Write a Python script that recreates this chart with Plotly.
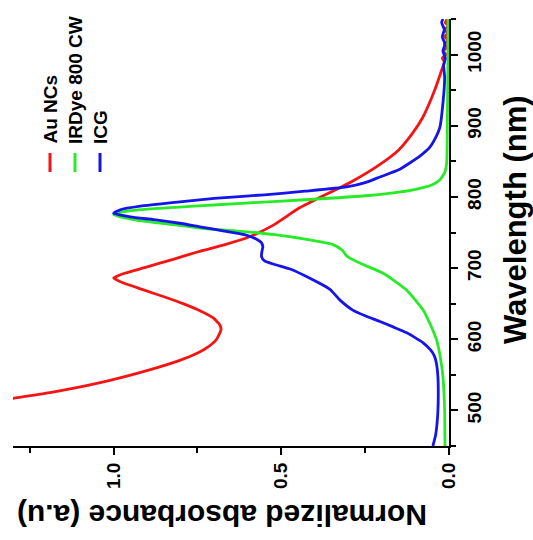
import plotly.graph_objects as go

# ---------------- data (wavelength in nm, normalized absorbance) ----------------
au_wl = [495, 505, 517, 525, 539, 557, 570, 581, 590, 600, 613, 620, 630, 639, 650, 660, 670, 679, 686,
         692, 701, 712, 723, 733, 744, 760, 784, 798, 821, 845, 866, 890, 912, 946, 978,
         990, 995, 1000, 1005, 1010, 1015, 1020, 1025, 1030, 1035, 1040, 1045, 1050]
au_abs = [1.56, 1.42, 1.30, 1.19, 1.04, 0.893, 0.805, 0.748, 0.716, 0.693, 0.680, 0.683, 0.703, 0.738, 0.793, 0.852, 0.915, 0.970, 1.0,
          0.972, 0.905, 0.825, 0.748, 0.668, 0.595, 0.525, 0.448, 0.39, 0.292, 0.208, 0.150, 0.108, 0.078, 0.046, 0.022,
          0.014, 0.02, 0.009, 0.017, 0.006, 0.014, 0.003, 0.012, 0.004, 0.013, 0.002, 0.011, 0.005]

ir_wl = [450, 500, 547, 575, 599, 620, 641, 669, 693, 707, 717, 725, 733, 740, 747, 752, 756, 761,
         766, 771, 775, 779, 783, 787, 791, 796, 802, 810, 817, 824, 835, 847, 900, 950, 1000, 1050]
ir_abs = [0.012, 0.013, 0.018, 0.026, 0.037, 0.055, 0.077, 0.126, 0.197, 0.266, 0.305, 0.318, 0.346, 0.42, 0.52,
          0.63, 0.743, 0.82, 0.91, 0.97, 1.0, 0.975, 0.9, 0.76, 0.62, 0.43, 0.24, 0.107, 0.05, 0.027, 0.012,
          0.007, 0.005, 0.004, 0.003, 0.003]

icg_wl = [450, 465, 480, 500, 520, 547, 565, 576, 585, 595, 602, 609, 617, 625, 633, 641, 655, 670, 688, 698,
          705, 710, 716, 723, 730, 736, 741, 747, 752, 758, 763, 768, 772, 777, 782, 787, 793, 798, 803, 808,
          814, 820, 828, 838, 848, 858, 870, 885, 898, 932, 968, 985, 995, 1005, 1015, 1025, 1035, 1045, 1050]
icg_abs = [0.048, 0.04, 0.036, 0.033, 0.032, 0.033, 0.037, 0.043, 0.055, 0.077, 0.1, 0.126, 0.165, 0.206, 0.25,
           0.287, 0.325, 0.355, 0.425, 0.47, 0.52, 0.55, 0.559, 0.558, 0.555, 0.56, 0.575, 0.61, 0.67, 0.743,
           0.803, 0.88, 0.95, 1.0, 0.98, 0.92, 0.803, 0.70, 0.55, 0.43, 0.305, 0.25, 0.206, 0.15, 0.116, 0.085,
           0.057, 0.038, 0.027, 0.018, 0.013, 0.016, 0.011, 0.018, 0.012, 0.02, 0.014, 0.022, 0.018]

series_names = ["Au NCs", "IRDye 800 CW", "ICG"]
series_colors = ["rgb(245,20,20)", "rgb(40,235,40)", "rgb(20,20,235)"]

x_tickvals = [0.0, 0.5, 1.0]
x_ticktext = ["0.0", "0.5", "1.0"]
y_tickvals = [500, 600, 700, 800, 900, 1000]

# ---------------- figure ----------------
W, H = 533, 540
ML, MR, MT, MB = 13, 84, 19, 94
PW, PH = W - ML - MR, H - MT - MB

def px_x(px):
    return (px - ML) / PW

def px_y(py):
    return (H - MB - py) / PH

fig = go.Figure()
for wl, ab, name, col in [(au_wl, au_abs, series_names[0], series_colors[0]),
                          (ir_wl, ir_abs, series_names[1], series_colors[1]),
                          (icg_wl, icg_abs, series_names[2], series_colors[2])]:
    fig.add_trace(go.Scatter(x=ab, y=wl, mode="lines", name=name,
                             line=dict(color=col, width=2.8, shape="spline", smoothing=0.5),
                             showlegend=False))

FONT = "Liberation Sans, Arial, sans-serif"

fig.update_layout(
    width=W, height=H,
    margin=dict(l=ML, r=MR, t=MT, b=MB),
    paper_bgcolor="white", plot_bgcolor="white",
    font=dict(family=FONT, color="black"),
    xaxis=dict(range=[1.3, 0.0], tickvals=x_tickvals, ticktext=x_ticktext,
               tickangle=-90, ticks="outside", ticklen=7, tickwidth=2, tickcolor="black",
               minor=dict(dtick=0.25, tick0=0, ticks="outside", ticklen=5, tickwidth=2, tickcolor="black"),
               showline=True, linewidth=2, linecolor="black", showgrid=False, zeroline=False,
               tickfont=dict(size=19, family=FONT, weight="bold", color="black")),
    yaxis=dict(range=[450, 1050], side="right", tickvals=y_tickvals,
               tickangle=-90, ticks="outside", ticklen=7, tickwidth=2, tickcolor="black",
               minor=dict(dtick=50, tick0=450, ticks="outside", ticklen=5, tickwidth=2, tickcolor="black"),
               showline=True, linewidth=2, linecolor="black", showgrid=False, zeroline=False,
               tickfont=dict(size=19, family=FONT, weight="bold", color="black")),
)

# axis titles
fig.add_annotation(text="Wavelength (nm)", xref="paper", yref="paper",
                   x=px_x(515), y=px_y(220), xanchor="center", yanchor="middle",
                   textangle=-90, showarrow=False,
                   font=dict(size=31, family=FONT, weight="bold", color="black"))
fig.add_annotation(text="Normalized absorbance (a.u)", xref="paper", yref="paper",
                   x=px_x(222), y=px_y(516), xanchor="center", yanchor="middle",
                   textangle=180, showarrow=False,
                   font=dict(size=30, family=FONT, weight="bold", color="black"))

# legend (rotated)
leg_x = [50, 75, 100]
for name, col, lx in zip(series_names, series_colors, leg_x):
    fig.add_annotation(text=name, xref="paper", yref="paper",
                       x=px_x(lx), y=px_y(146), xanchor="center", yanchor="bottom",
                       textangle=-90, showarrow=False,
                       font=dict(size=19, family=FONT, weight="bold", color="black"))
    fig.add_shape(type="line", xref="paper", yref="paper",
                  x0=px_x(lx), x1=px_x(lx), y0=px_y(153), y1=px_y(172),
                  line=dict(color=col, width=3))

fig.write_html("out.html")
